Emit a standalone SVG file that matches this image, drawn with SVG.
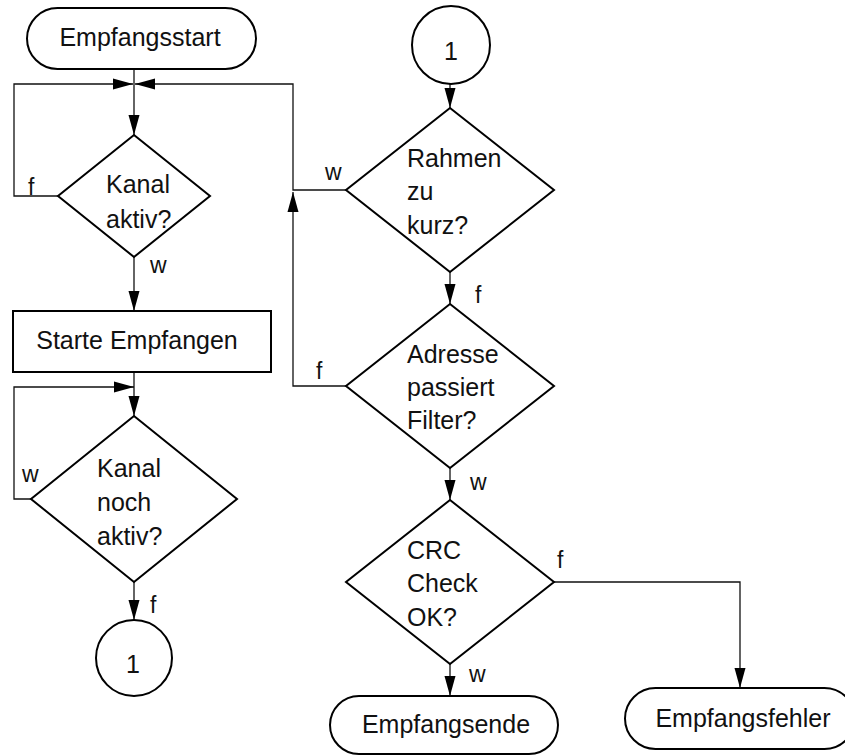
<svg xmlns="http://www.w3.org/2000/svg" width="845" height="755" viewBox="0 0 845 755">
<style>
.shape{fill:#fff;stroke:#000;stroke-width:2}
.conn{fill:none;stroke:#111;stroke-width:1.3}
.t{font-family:"Liberation Sans",Arial,sans-serif;font-size:25px;fill:#111}
.c{text-anchor:middle}
.lbl{font-family:"Liberation Sans",Arial,sans-serif;font-size:23px;fill:#111}
</style>
<defs>
<marker id="arr" markerUnits="userSpaceOnUse" markerWidth="20" markerHeight="12" refX="20" refY="6" orient="auto">
<path d="M0,0.5 L20,6 L0,11.5 z" fill="#000"/>
</marker>
</defs>
<rect width="845" height="755" fill="#fff"/>
<g id="connectors">
<path class="conn" d="M134,69 L134,135" marker-end="url(#arr)"/>
<path class="conn" d="M58,196 L14,196 L14,84 L133,84" marker-end="url(#arr)"/>
<path class="conn" d="M346,190 L293,190 L293,84 L135,84" marker-end="url(#arr)"/>
<path class="conn" d="M346,386 L293,386 L293,192" marker-end="url(#arr)"/>
<path class="conn" d="M134,257 L134,311" marker-end="url(#arr)"/>
<path class="conn" d="M134,372 L134,416" marker-end="url(#arr)"/>
<path class="conn" d="M31,499 L14,499 L14,387 L134,387" marker-end="url(#arr)"/>
<path class="conn" d="M134,582 L134,620" marker-end="url(#arr)"/>
<path class="conn" d="M450,84 L450,108" marker-end="url(#arr)"/>
<path class="conn" d="M450,272 L450,304" marker-end="url(#arr)"/>
<path class="conn" d="M450,468 L450,500" marker-end="url(#arr)"/>
<path class="conn" d="M450,664 L450,696" marker-end="url(#arr)"/>
<path class="conn" d="M554,582 L740,582 L740,688" marker-end="url(#arr)"/>
<text class="lbl" x="28" y="195">f</text>
<text class="lbl" x="150" y="273">w</text>
<text class="lbl" x="22" y="482">w</text>
<text class="lbl" x="150" y="613">f</text>
<text class="lbl" x="325" y="180">w</text>
<text class="lbl" x="475" y="303">f</text>
<text class="lbl" x="316" y="379">f</text>
<text class="lbl" x="470" y="490">w</text>
<text class="lbl" x="557" y="568">f</text>
<text class="lbl" x="469" y="682">w</text>
</g>
<g id="start">
<rect class="shape" x="27" y="8" width="229" height="61" rx="30.5" ry="30.5"/>
<text class="t c" x="140" y="46">Empfangsstart</text>
</g>
<g id="kanalAktiv">
<polygon class="shape" points="134,135 210,196 134,257 58,196"/>
<text class="t" x="106" y="193">Kanal</text>
<text class="t" x="106" y="228">aktiv?</text>
</g>
<g id="starteEmpfangen">
<rect class="shape" x="13" y="311" width="258" height="61"/>
<text class="t c" x="137" y="349">Starte Empfangen</text>
</g>
<g id="kanalNochAktiv">
<polygon class="shape" points="134,416 237,499 134,582 31,499"/>
<text class="t" x="97" y="477">Kanal</text>
<text class="t" x="97" y="511">noch</text>
<text class="t" x="97" y="545">aktiv?</text>
</g>
<g id="connectorOut">
<circle class="shape" cx="134" cy="658" r="38"/>
<text class="t c" x="133" y="673">1</text>
</g>
<g id="connectorIn">
<circle class="shape" cx="451" cy="45" r="39"/>
<text class="t c" x="451" y="60">1</text>
</g>
<g id="rahmenZuKurz">
<polygon class="shape" points="450,108 554,190 450,272 346,190"/>
<text class="t" x="407" y="167">Rahmen</text>
<text class="t" x="407" y="200">zu</text>
<text class="t" x="407" y="234">kurz?</text>
</g>
<g id="adresseFilter">
<polygon class="shape" points="450,304 554,386 450,468 346,386"/>
<text class="t" x="407" y="363">Adresse</text>
<text class="t" x="407" y="396">passiert</text>
<text class="t" x="407" y="429">Filter?</text>
</g>
<g id="crcCheck">
<polygon class="shape" points="450,500 554,582 450,664 346,582"/>
<text class="t" x="407" y="559">CRC</text>
<text class="t" x="407" y="592">Check</text>
<text class="t" x="407" y="626">OK?</text>
</g>
<g id="empfangsende">
<rect class="shape" x="330" y="696" width="228" height="58" rx="29" ry="29"/>
<text class="t c" x="446" y="733">Empfangsende</text>
</g>
<g id="empfangsfehler">
<rect class="shape" x="625" y="688" width="230" height="61" rx="30.5" ry="30.5"/>
<text class="t c" x="743" y="727">Empfangsfehler</text>
</g>
</svg>
